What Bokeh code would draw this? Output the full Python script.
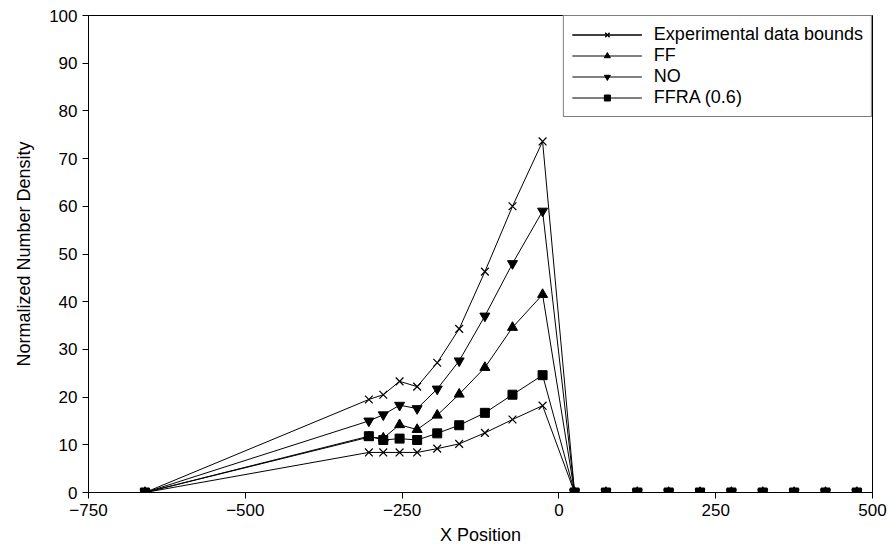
from bokeh.plotting import figure
from bokeh.models import Range1d, FixedTicker, Legend
from bokeh.embed import file_html
from bokeh.resources import INLINE

# ---- data ----
x_left = [-660]
x_mid = [-303, -280, -254, -226, -194, -159, -118, -74, -26]
x_right = [25, 75, 125, 175, 225, 275, 325, 375, 425, 475]

exp_upper = [19.5, 20.5, 23.3, 22.2, 27.2, 34.3, 46.3, 60.0, 73.6]
exp_lower = [8.4, 8.4, 8.4, 8.4, 9.2, 10.2, 12.5, 15.3, 18.2]
ff = [11.6, 11.4, 14.2, 13.2, 16.2, 20.6, 26.2, 34.6, 41.5]
no = [15.0, 16.3, 18.3, 17.6, 21.7, 27.6, 37.0, 48.0, 59.0]
ffra = [11.8, 11.0, 11.3, 11.0, 12.4, 14.1, 16.7, 20.5, 24.6]

x_ticks = [-750, -500, -250, 0, 250, 500]
y_ticks = [0, 10, 20, 30, 40, 50, 60, 70, 80, 90, 100]

xs = x_left + x_mid + x_right
zeros_r = [0] * len(x_right)


def full(series):
    return [0] + series + zeros_r


FONT = "Liberation Sans"

p = figure(width=888, height=552, output_backend="svg", toolbar_location=None,
           x_range=Range1d(-750, 500), y_range=Range1d(0, 100),
           min_border_left=88, min_border_right=16, min_border_top=15,
           min_border_bottom=60)
p.grid.visible = False
p.outline_line_color = "black"
p.outline_line_width = 1
p.background_fill_color = "white"
p.border_fill_color = "white"

for ax in (p.xaxis[0], p.yaxis[0]):
    ax.major_label_text_font = FONT
    ax.major_label_text_font_size = "17px"
    ax.major_label_text_color = "black"
    ax.axis_label_text_font = FONT
    ax.axis_label_text_font_size = "18px"
    ax.axis_label_text_font_style = "normal"
    ax.axis_label_text_color = "black"
    ax.axis_line_color = "black"
    ax.major_tick_line_color = "black"
    ax.major_tick_in = 0
    ax.major_tick_out = 6
    ax.minor_tick_line_color = None

p.xaxis.ticker = FixedTicker(ticks=x_ticks)
p.yaxis.ticker = FixedTicker(ticks=y_ticks)
p.xaxis.axis_label = "X Position"
p.yaxis.axis_label = "Normalized Number Density"
p.xaxis.axis_label_standoff = 6
p.yaxis.axis_label_standoff = 12

r1 = p.line(xs, full(exp_upper), line_color="black", line_width=1)
m1 = p.scatter(xs, full(exp_upper), marker="x", size=11, line_color="black", line_width=1.2)
r2 = p.line(xs, full(exp_lower), line_color="black", line_width=1)
m2 = p.scatter(xs, full(exp_lower), marker="x", size=11, line_color="black", line_width=1.2)
r3 = p.line(xs, full(ff), line_color="black", line_width=1)
m3 = p.scatter(xs, full(ff), marker="triangle", size=10, fill_color="black", line_color="black")
r4 = p.line(xs, full(no), line_color="black", line_width=1)
m4 = p.scatter(xs, full(no), marker="inverted_triangle", size=10, fill_color="black", line_color="black")
r5 = p.line(xs, full(ffra), line_color="black", line_width=1)
m5 = p.scatter(xs, full(ffra), marker="square", size=9, fill_color="black", line_color="black")

legend = Legend(items=[
    ("Experimental data bounds", [r1, m1, r2, m2]),
    ("FF", [r3, m3]),
    ("NO", [r4, m4]),
    ("FFRA (0.6)", [r5, m5]),
], location="top_right")
legend.margin = 0
legend.padding = 8
legend.spacing = 0
legend.glyph_width = 70
legend.glyph_height = 15
legend.label_height = 15
legend.label_standoff = 12
legend.label_text_font = FONT
legend.label_text_font_size = "18px"
legend.label_text_color = "black"
legend.label_text_line_height = 0.85
legend.border_line_color = "black"
legend.border_line_width = 1
legend.background_fill_alpha = 1
p.add_layout(legend, "center")

open("out.html", "w").write(file_html(p, INLINE))
